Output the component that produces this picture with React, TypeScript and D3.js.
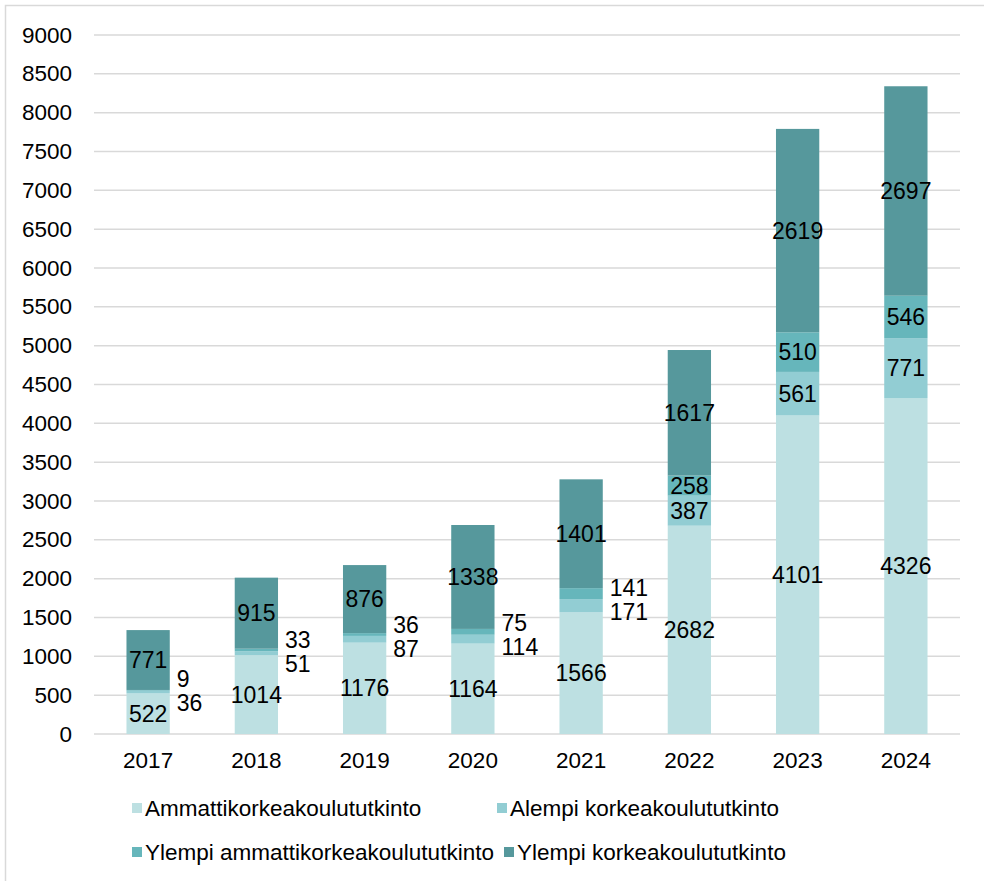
import React, { useEffect, useRef } from "react";
import * as d3 from "d3";

const years = ["2017", "2018", "2019", "2020", "2021", "2022", "2023", "2024"];
const seriesNames = [
  "Ammattikorkeakoulututkinto",
  "Alempi korkeakoulututkinto",
  "Ylempi ammattikorkeakoulututkinto",
  "Ylempi korkeakoulututkinto",
];
const amk = [522, 1014, 1176, 1164, 1566, 2682, 4101, 4326];
const alempi = [36, 51, 87, 114, 171, 387, 561, 771];
const ylempiAmk = [9, 33, 36, 75, 141, 258, 510, 546];
const ylempi = [771, 915, 876, 1338, 1401, 1617, 2619, 2697];
const yTicks = [0, 500, 1000, 1500, 2000, 2500, 3000, 3500, 4000, 4500, 5000, 5500, 6000, 6500, 7000, 7500, 8000, 8500, 9000];

const colors = ["#bde0e2", "#92cdd3", "#66b6bb", "#56989c"];
const font = "'Liberation Sans', Arial, sans-serif";
const fs = 23;

const App = () => {
  const ref = useRef<SVGSVGElement>(null);

  useEffect(() => {
    const svg = d3.select(ref.current);
    svg.selectAll("*").remove();
    const W = 984;
    const H = 881;

    // chart frame
    svg.append("rect")
      .attr("x", 5.5).attr("y", 5.5)
      .attr("width", W + 20).attr("height", H + 20)
      .attr("fill", "white").attr("stroke", "#d9d9d9").attr("stroke-width", 1.5);

    const x = d3.scaleBand().domain(years).range([94, 960]).paddingInner(0.6).paddingOuter(0.3);
    const y = d3.scaleLinear().domain([0, 9000]).range([734, 35]);

    // gridlines
    svg.append("g").selectAll("line").data(yTicks).enter().append("line")
      .attr("x1", 94).attr("x2", 960)
      .attr("y1", (d) => y(d)).attr("y2", (d) => y(d))
      .attr("stroke", "#d9d9d9").attr("stroke-width", 1.5);

    svg.append("g").selectAll("text").data(yTicks).enter().append("text")
      .attr("x", 72).attr("y", (d) => y(d))
      .attr("text-anchor", "end").attr("dominant-baseline", "central")
      .attr("font-family", font).attr("font-size", fs - 0.5).attr("fill", "#000")
      .text((d) => d);

    svg.append("g").selectAll("text").data(years).enter().append("text")
      .attr("x", (d) => x(d)! + x.bandwidth() / 2).attr("y", 760)
      .attr("text-anchor", "middle").attr("dominant-baseline", "central")
      .attr("font-family", font).attr("font-size", fs - 0.5).attr("fill", "#000")
      .text((d) => d);

    const rows = years.map((yr, i) => ({
      year: yr,
      v: [amk[i], alempi[i], ylempiAmk[i], ylempi[i]],
    }));
    const stack = d3.stack<any>().keys(["0", "1", "2", "3"]).value((d, k) => d.v[+k]);
    const stacked = stack(rows);

    stacked.forEach((layer, si) => {
      svg.append("g").selectAll("rect").data(layer).enter().append("rect")
        .attr("x", (d) => x(d.data.year)!)
        .attr("width", x.bandwidth())
        .attr("y", (d) => y(d[1]))
        .attr("height", (d) => y(d[0]) - y(d[1]))
        .attr("fill", colors[si]);
    });

    const labels = svg.append("g").attr("font-family", font).attr("font-size", fs).attr("fill", "#000");
    rows.forEach((r, i) => {
      const xc = x(r.year)! + x.bandwidth() / 2;
      const xr = x(r.year)! + x.bandwidth() + 7;
      const mids = stacked.map((layer) => y((layer[i][0] + layer[i][1]) / 2));
      [0, 3].forEach((si) => {
        labels.append("text").attr("x", xc).attr("y", mids[si])
          .attr("text-anchor", "middle").attr("dominant-baseline", "central")
          .text(r.v[si]);
      });
      if (r.v[1] < 200) {
        // small segments: labels beside the bar, pushed apart
        const c = (mids[1] + mids[2]) / 2;
        labels.append("text").attr("x", xr).attr("y", c + 12)
          .attr("dominant-baseline", "central").text(r.v[1]);
        labels.append("text").attr("x", xr).attr("y", c - 12)
          .attr("dominant-baseline", "central").text(r.v[2]);
      } else {
        [1, 2].forEach((si) => {
          labels.append("text").attr("x", xc).attr("y", mids[si])
            .attr("text-anchor", "middle").attr("dominant-baseline", "central")
            .text(r.v[si]);
        });
      }
    });

    // legend
    const legendPos = [
      [132, 808], [497, 808], [132, 852], [504, 852],
    ];
    const lg = svg.append("g").selectAll("g").data(seriesNames).enter().append("g")
      .attr("transform", (d, i) => `translate(${legendPos[i][0]},${legendPos[i][1]})`);
    lg.append("rect").attr("x", 0).attr("y", -5).attr("width", 10).attr("height", 10)
      .attr("fill", (d, i) => colors[i]);
    lg.append("text").attr("x", 13).attr("y", 0).attr("dominant-baseline", "central")
      .attr("font-family", font).attr("font-size", fs - 0.5).attr("fill", "#000")
      .text((d) => d);
  }, []);

  return (
    <svg
      ref={ref}
      width={984}
      height={881}
      style={{ position: "fixed", left: 0, top: 0, display: "block", background: "white" }}
    />
  );
};

export default App;
